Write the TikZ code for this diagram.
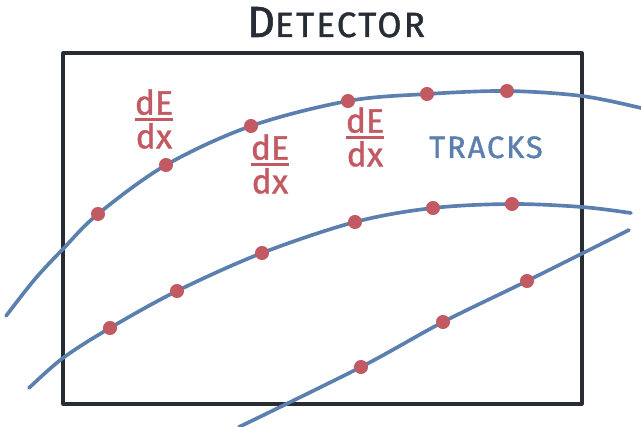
\documentclass[tikz,border=0pt]{standalone}
\usepackage{amsmath}
\usepackage{fontspec}
\setmainfont{Fira Sans}
\usetikzlibrary{positioning}
\definecolor{trk}{HTML}{5B80AF}
\definecolor{hit}{HTML}{C25A63}
\definecolor{ink}{HTML}{272C35}
\tikzset{
  every picture/.style={line cap=round, line join=round},
  detbox/.style={draw=ink, line width=2.2pt},
  track/.style={draw=trk, line width=2.6pt},
  hitdot/.style={fill=hit},
  dedx/.style={text=hit, font=\fontsize{24}{25}\selectfont\addfontfeature{FakeBold=1.2}, inner sep=0pt},
  tlbl/.style={text=trk, font=\fontsize{22}{24}\selectfont\addfontfeature{FakeBold=1.2,LetterSpace=6}, inner sep=0pt, anchor=base},
  ttl/.style={text=ink, inner sep=0pt, anchor=base},
}
\newcommand{\dEdx}{$\genfrac{}{}{1.6pt}{1}{\mbox{dE}}{\mbox{dx}}$}

\begin{document}
\begin{tikzpicture}[x=0.025cm, y=-0.025cm]
  \useasboundingbox (0,0) rectangle (641,427);
  % ======================= detector =======================
  \node[ttl] (title) at (336,37) {\addfontfeature{FakeBold=1.2,LetterSpace=6}{\fontsize{31}{31}\selectfont D}\fontsize{25}{25}\selectfont ETECTOR};
  \draw[detbox] (63,53) rectangle (582,404);

  % ======================= tracks =======================
  \draw[track] plot[smooth, tension=0.55] coordinates {(6,316) (35,279) (63,249) (98,214) (166,165)
    (251,126) (348,101) (427,94) (507,91) (582,96) (641,108)};
  \draw[track] plot[smooth, tension=0.55] coordinates {(29,388) (63,358) (110,328) (177,291)
    (262,253) (355,222) (433,208) (512,204) (582,207) (631,213)};
  \draw[track] plot[smooth, tension=0.55] coordinates {(239,427) (361,367) (443,322) (527,281) (629,230)};

  % ======================= hits =======================
  \foreach \x/\y in {98/214,166/165,251/126,348/101,427/94,507/91,
                     110/328,177/291,262/253,355/222,433/208,512/204,
                     361/367,443/322,527/281}{
    \fill[hitdot] (\x,\y) circle (5pt);}

  % ======================= labels =======================
  \node[dedx] (d1) at (154,119) {\dEdx};
  \node[dedx] (d2) at (270,164) {\dEdx};
  \node[dedx] (d3) at (365,137) {\dEdx};
  \node[tlbl] (tracks) at (486,158) {TRACKS};
\end{tikzpicture}
\end{document}
